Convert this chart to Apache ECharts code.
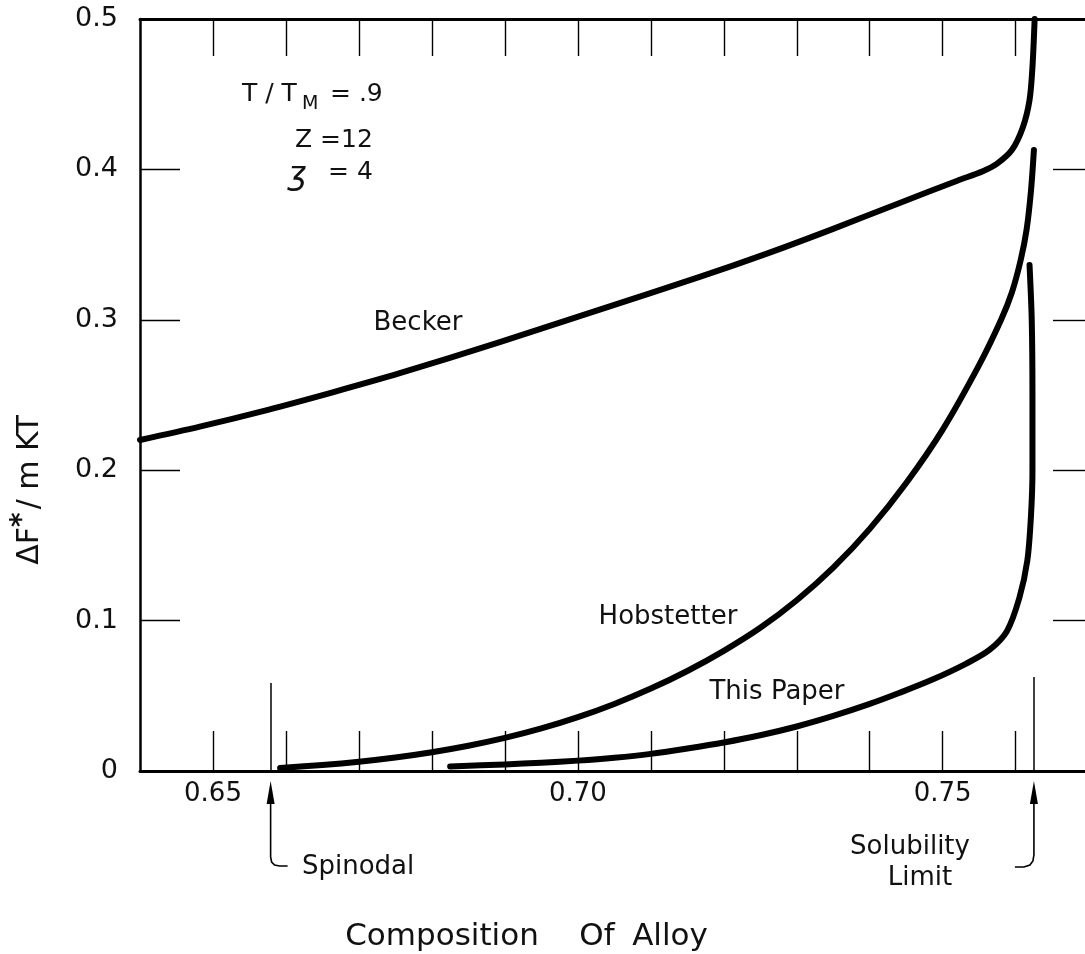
<!DOCTYPE html>
<html>
<head>
<meta charset="utf-8">
<script src="https://cdn.jsdelivr.net/npm/echarts@6/dist/echarts.min.js"></script>
<style>
  html, body { margin: 0; padding: 0; background: #fff; }
  #chart { width: 1085px; height: 954px; }
</style>
</head>
<body>
<div id="chart"></div>
<script>
// Nucleation barrier ΔF*/mkT against alloy composition, T/TM = 0.9, Z = 12, z = 4

// [composition, ΔF*/mkT]
const becker = [
  [0.6400, 0.2201], [0.6482, 0.2290], [0.6574, 0.2400], [0.6664, 0.2518],
  [0.6756, 0.2645], [0.6893, 0.2852], [0.7030, 0.3068], [0.7167, 0.3285],
  [0.7259, 0.3440], [0.7349, 0.3603], [0.7441, 0.3777], [0.7520, 0.3925],
  [0.7555, 0.3988], [0.7575, 0.4040], [0.7595, 0.4130], [0.7610, 0.4282],
  [0.7619, 0.4461], [0.7623, 0.4681], [0.7626, 0.5000]
];

const hobstetter = [
  [0.6592, 0.0020], [0.6650, 0.0040], [0.6700, 0.0062], [0.6750, 0.0090],
  [0.6800, 0.0125], [0.6850, 0.0168], [0.6900, 0.0220], [0.6950, 0.0283],
  [0.7000, 0.0358], [0.7050, 0.0446], [0.7100, 0.0548], [0.7150, 0.0665],
  [0.7200, 0.0799], [0.7250, 0.0952], [0.7300, 0.1135], [0.7350, 0.1352],
  [0.7400, 0.1610], [0.7450, 0.1915], [0.7500, 0.2270], [0.7550, 0.2700],
  [0.7580, 0.3000], [0.7595, 0.3185], [0.7607, 0.3400], [0.7615, 0.3600],
  [0.7621, 0.3860], [0.7625, 0.4129]
];

const thisPaper = [
  [0.6825, 0.0030], [0.6900, 0.0044], [0.6950, 0.0055], [0.7000, 0.0069],
  [0.7050, 0.0088], [0.7100, 0.0114], [0.7150, 0.0150], [0.7200, 0.0190],
  [0.7250, 0.0238], [0.7300, 0.0296], [0.7350, 0.0366], [0.7400, 0.0446],
  [0.7441, 0.0520], [0.7486, 0.0608], [0.7533, 0.0716], [0.7564, 0.0805],
  [0.7588, 0.0930], [0.7605, 0.1150], [0.7616, 0.1400], [0.7621, 0.1700],
  [0.7623, 0.2000], [0.7623, 0.2500], [0.7622, 0.3000], [0.7619, 0.3364]
];

// marked compositions and the height of their guide lines
const spinodal = 0.6579;
const spinodalTop = 0.0585;
const solubilityLimit = 0.7625;
const solubilityTop = 0.0625;

// axis ticks and labels
const xTickValues = [0.65, 0.66, 0.67, 0.68, 0.69, 0.70, 0.71, 0.72, 0.73, 0.74, 0.75, 0.76];
const xLabelValues = [0.65, 0.70, 0.75];
const xMin = 0.64, xMax = 0.7695;
const yMin = 0, yMax = 0.5, yStep = 0.1;

const FONT = 'DejaVu Sans';
const INK = '#000';
const TXT = '#111';

const chart = echarts.init(document.getElementById('chart'), null, { renderer: 'canvas' });

const curveStyle = { color: INK, width: 6, cap: 'round', join: 'round' };

const option = {
  animation: false,
  backgroundColor: '#fff',
  grid: { left: 140, top: 19, right: 0, bottom: 183, containLabel: false },
  xAxis: [
    {
      type: 'value', position: 'bottom', min: xMin, max: xMax,
      axisLine: { show: true, onZero: false, lineStyle: { color: INK, width: 3 } },
      axisTick: { show: true, inside: true, length: 40, customValues: xTickValues,
                  lineStyle: { color: INK, width: 1.4 } },
      axisLabel: { show: true, customValues: xLabelValues, margin: 10,
                   formatter: v => v.toFixed(2),
                   fontFamily: FONT, fontSize: 26, color: TXT },
      splitLine: { show: false }
    },
    {
      type: 'value', position: 'top', min: xMin, max: xMax,
      axisLine: { show: true, onZero: false, lineStyle: { color: INK, width: 3 } },
      axisTick: { show: true, inside: true, length: 37, customValues: xTickValues,
                  lineStyle: { color: INK, width: 1.4 } },
      axisLabel: { show: false },
      splitLine: { show: false }
    }
  ],
  yAxis: [
    {
      type: 'value', position: 'left', min: yMin, max: yMax, interval: yStep,
      axisLine: { show: true, onZero: false, lineStyle: { color: INK, width: 2.5 } },
      axisTick: { show: true, inside: true, length: 40, lineStyle: { color: INK, width: 1.4 } },
      axisLabel: { show: true, margin: 22, fontFamily: FONT, fontSize: 27, color: TXT,
                   formatter: v => (v === 0 ? '0' : v.toFixed(1)) },
      splitLine: { show: false }
    },
    {
      type: 'value', position: 'right', min: yMin, max: yMax, interval: yStep,
      axisLine: { show: false },
      axisTick: { show: true, inside: true, length: 32, lineStyle: { color: INK, width: 1.4 } },
      axisLabel: { show: false },
      splitLine: { show: false }
    }
  ],
  series: [
    {
      name: 'Becker', type: 'line', data: becker, showSymbol: false, smooth: 0.3,
      lineStyle: curveStyle, silent: true
    },
    {
      name: 'Hobstetter', type: 'line', data: hobstetter, showSymbol: false, smooth: 0.3,
      lineStyle: curveStyle, silent: true,
      markLine: {
        silent: true, symbol: ['none', 'none'], label: { show: false },
        lineStyle: { color: INK, width: 1.5, type: 'solid' },
        data: [
          [{ coord: [spinodal, 0] }, { coord: [spinodal, spinodalTop] }],
          [{ coord: [solubilityLimit, 0] }, { coord: [solubilityLimit, solubilityTop] }]
        ]
      }
    },
    {
      name: 'This Paper', type: 'line', data: thisPaper, showSymbol: false, smooth: 0.3,
      lineStyle: curveStyle, silent: true
    }
  ]
};

chart.setOption(option);

// text and arrows placed around the plot
const sx = chart.convertToPixel({ xAxisIndex: 0 }, spinodal);
const lx = chart.convertToPixel({ xAxisIndex: 0 }, solubilityLimit);

function label(text, x, y, size, extra) {
  return {
    type: 'text', x: x, y: y, silent: true,
    style: Object.assign({ text: text, font: size + 'px "' + FONT + '"', fill: TXT,
                           align: 'center', verticalAlign: 'middle' }, (extra || {}))
  };
}

function arrowHead(x) {
  return {
    type: 'polygon', silent: true,
    shape: { points: [[x, 781], [x - 4, 804], [x + 4, 804]] },
    style: { fill: INK }
  };
}

const graphics = [
  // parameter block
  label('T / T', 242, 94, 25, { align: 'left' }),
  label('M', 302, 104, 19, { align: 'left' }),
  label('= .9', 330, 94, 25, { align: 'left' }),
  label('Z =12', 295, 140, 25, { align: 'left' }),
  label('ʒ', 288, 176, 32, { align: 'left', font: 'italic 32px "' + FONT + '"' }),
  label('= 4', 328, 172, 25, { align: 'left' }),

  // curve names
  label('Becker', 418, 323, 26),
  label('Hobstetter', 668, 617, 26),
  label('This Paper', 777, 692, 26),

  // markers under the axis
  label('Spinodal', 302, 867, 26, { align: 'left' }),
  label('Solubility', 910, 847, 26),
  label('Limit', 920, 878, 26),

  // axis titles
  label('Composition', 442, 937, 31),
  label('Of', 597, 937, 31),
  label('Alloy', 670, 937, 31),
  {
    type: 'text', x: 30, y: 490, rotation: Math.PI / 2, silent: true,
    style: {
      text: '{a|ΔF}{s|*}{a|/ m KT}', align: 'center', verticalAlign: 'middle',
      rich: {
        a: { font: '30px "' + FONT + '"', fill: TXT },
        s: { font: 'bold 28px "' + FONT + '"', fill: TXT, padding: [0, 3, 14, 0] }
      }
    }
  },

  // spinodal arrow
  {
    type: 'polyline', silent: true,
    shape: { points: [[sx, 795], [sx, 857], [sx + 1, 862], [sx + 4, 865], [sx + 9, 866], [sx + 17, 866]] },
    style: { stroke: INK, lineWidth: 1.6, fill: null }
  },
  arrowHead(sx),

  // solubility-limit arrow
  {
    type: 'polyline', silent: true,
    shape: { points: [[lx, 795], [lx, 855], [lx - 1, 861], [lx - 4, 865], [lx - 10, 867], [lx - 19, 867]] },
    style: { stroke: INK, lineWidth: 1.6, fill: null }
  },
  arrowHead(lx)
];

chart.setOption({ graphic: graphics });
</script>
</body>
</html>
